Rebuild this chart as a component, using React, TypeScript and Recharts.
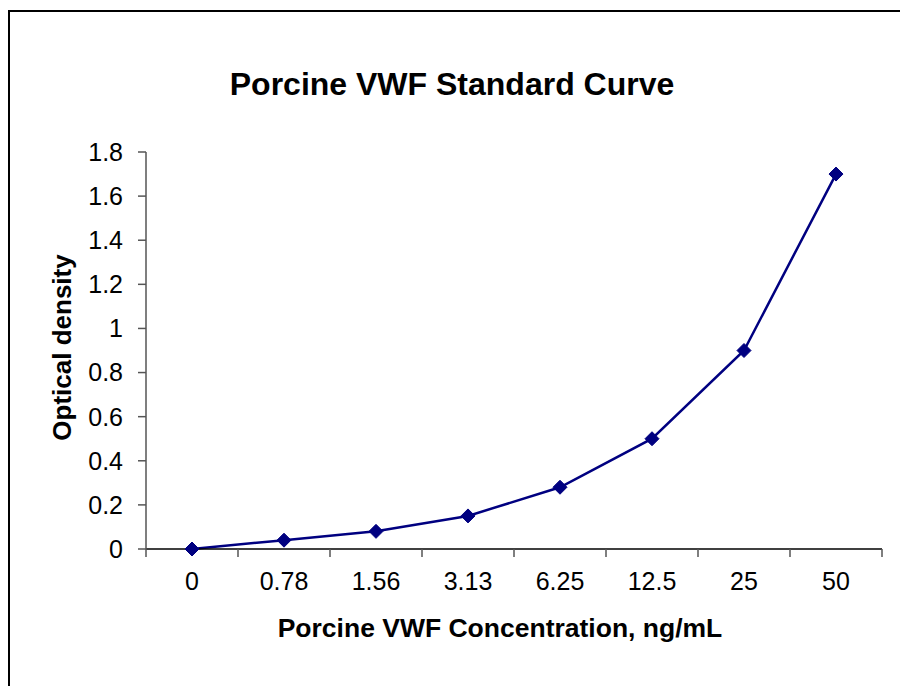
import React from 'react';
import { Line, LineChart, XAxis, YAxis } from 'recharts';

const CONCENTRATIONS = ['0', '0.78', '1.56', '3.13', '6.25', '12.5', '25', '50'];
const OPTICAL_DENSITY = [0, 0.04, 0.08, 0.15, 0.28, 0.5, 0.9, 1.7];
const Y_TICKS = [0, 0.2, 0.4, 0.6, 0.8, 1, 1.2, 1.4, 1.6, 1.8];

const data = CONCENTRATIONS.map((c, i) => ({ conc: c, od: OPTICAL_DENSITY[i] }));

const FONT = '"Liberation Sans", Arial, Helvetica, sans-serif';
const W = 892;
const H = 678;
const PLOT_LEFT = 138;
const PLOT_RIGHT = 18;
const PLOT_W = W - PLOT_LEFT - PLOT_RIGHT;
const BAND = PLOT_W / CONCENTRATIONS.length;
const NAVY = '#000080';

function XTick(props: any) {
  const { x, y, payload, index } = props;
  const half = BAND / 2;
  return (
    <g>
      <line x1={x - half} x2={x - half} y1={y} y2={y + 8} stroke="#555" strokeWidth={1.5} />
      {index === CONCENTRATIONS.length - 1 && (
        <line x1={x + half} x2={x + half} y1={y} y2={y + 8} stroke="#555" strokeWidth={1.5} />
      )}
      <text x={x} y={y + 41} textAnchor="middle" fontSize={25} fill="#000" fontFamily={FONT}>
        {payload.value}
      </text>
    </g>
  );
}

function Diamond(props: any) {
  const { cx, cy, index } = props;
  const r = 7;
  return (
    <path
      key={`d-${index}`}
      d={`M${cx},${cy - r} L${cx + r},${cy} L${cx},${cy + r} L${cx - r},${cy} Z`}
      fill={NAVY}
      stroke={NAVY}
    />
  );
}

export default function App() {
  return (
    <div style={{ position: 'fixed', left: 0, top: 0, width: 900, height: 686, background: '#fff', overflow: 'hidden' }}>
      <style>{'html,body{margin:0;overflow:hidden;background:#fff}'}</style>
      <div
        style={{
          position: 'absolute',
          left: 8,
          top: 10,
          width: 900,
          height: 700,
          borderLeft: '2px solid #000',
          borderTop: '2px solid #000',
        }}
      />
      <div style={{ position: 'absolute', left: 8, top: 8 }}>
        <LineChart
          width={W}
          height={H}
          data={data}
          margin={{ top: 144, right: PLOT_RIGHT, bottom: 77, left: 0 }}
        >
          <XAxis
            dataKey="conc"
            scale="band"
            height={60}
            tickLine={false}
            tickSize={0}
            tickMargin={0}
            axisLine={{ stroke: '#000', strokeWidth: 1.5 }}
            tick={<XTick />}
            interval={0}
            label={{
              content: (p: any) => {
                const vb = p.viewBox;
                return (
                  <text
                    x={vb.x + vb.width / 2 - 14}
                    y={vb.y + 88}
                    textAnchor="middle"
                    fontSize={26.5}
                    fontWeight="bold"
                    fontFamily={FONT}
                    fill="#000"
                  >
                    Porcine VWF Concentration, ng/mL
                  </text>
                );
              },
            }}
          />
          <YAxis
            width={PLOT_LEFT}
            domain={[0, 1.8]}
            ticks={Y_TICKS}
            interval={0}
            tickSize={8}
            tickMargin={15}
            tickLine={{ stroke: '#555', strokeWidth: 1.5 }}
            axisLine={{ stroke: '#555', strokeWidth: 1.5 }}
            tick={{ fontSize: 25, fill: '#000', fontFamily: FONT }}
            label={{
              content: (p: any) => {
                const vb = p.viewBox;
                const cx = vb.x + 54;
                const cy = vb.y + vb.height / 2 - 3;
                return (
                  <text
                    x={cx}
                    y={cy}
                    transform={`rotate(-90, ${cx}, ${cy})`}
                    textAnchor="middle"
                    dominantBaseline="central"
                    fontSize={26}
                    fontWeight="bold"
                    fontFamily={FONT}
                    fill="#000"
                  >
                    Optical density
                  </text>
                );
              },
            }}
          />
          <Line
            type="linear"
            dataKey="od"
            stroke={NAVY}
            strokeWidth={2.5}
            dot={<Diamond />}
            activeDot={false}
            isAnimationActive={false}
          />
        </LineChart>
      </div>
      <svg
        width={900}
        height={130}
        style={{ position: 'absolute', left: 0, top: 0, pointerEvents: 'none' }}
      >
        <text
          x={452}
          y={95}
          textAnchor="middle"
          fontSize={32}
          fontWeight="bold"
          fontFamily={FONT}
          fill="#000"
        >
          Porcine VWF Standard Curve
        </text>
      </svg>
    </div>
  );
}
